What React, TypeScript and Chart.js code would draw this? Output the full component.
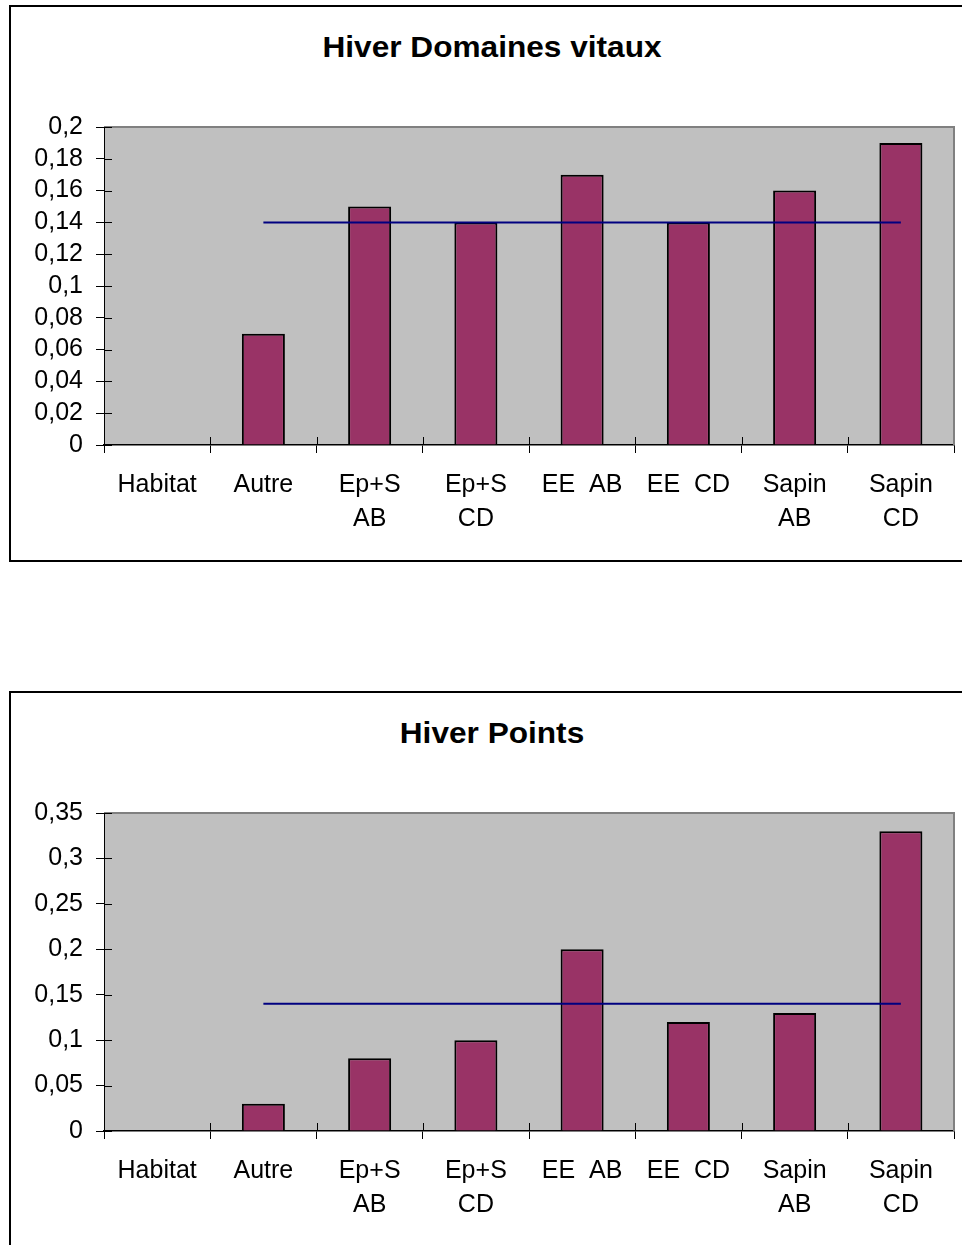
import React, { useEffect, useRef } from "react";
import { Chart, registerables } from "chart.js";

Chart.register(...registerables);

const categories: string[][] = [
  ["Habitat"],
  ["Autre"],
  ["Ep+S", "AB"],
  ["Ep+S", "CD"],
  ["EE  AB"],
  ["EE  CD"],
  ["Sapin", "AB"],
  ["Sapin", "CD"],
];

const domainesTitle = "Hiver Domaines vitaux";
const domainesValues = [null, 0.07, 0.15, 0.14, 0.17, 0.14, 0.16, 0.19];
const domainesRef = [null, 0.14, 0.14, 0.14, 0.14, 0.14, 0.14, 0.14];
const domainesMax = 0.2;
const domainesStep = 0.02;

const pointsTitle = "Hiver Points";
const pointsValues = [null, 0.03, 0.08, 0.1, 0.2, 0.12, 0.13, 0.33];
const pointsRef = [null, 0.14, 0.14, 0.14, 0.14, 0.14, 0.14, 0.14];
const pointsMax = 0.35;
const pointsStep = 0.05;

const FONT = "'Liberation Sans', Arial, Helvetica, sans-serif";

const plotPlugin = {
  id: "plotDecor",
  beforeDraw(chart: any) {
    const { ctx, chartArea: a } = chart;
    ctx.save();
    ctx.fillStyle = "#C0C0C0";
    ctx.fillRect(a.left, a.top, a.right - a.left, a.bottom - a.top);
    ctx.restore();
  },
  afterDraw(chart: any) {
    const { ctx, chartArea: a } = chart;
    ctx.save();
    ctx.strokeStyle = "#808080";
    ctx.lineWidth = 2;
    ctx.beginPath();
    ctx.moveTo(a.left, a.top);
    ctx.lineTo(a.right, a.top);
    ctx.lineTo(a.right, a.bottom);
    ctx.stroke();
    ctx.strokeStyle = "#000";
    ctx.lineWidth = 1;
    const ys = chart.scales.y;
    ys.ticks.forEach((t: any) => {
      const y = Math.round(ys.getPixelForValue(t.value)) + 0.5;
      ctx.beginPath();
      ctx.moveTo(a.left, y);
      ctx.lineTo(a.left + 8, y);
      ctx.stroke();
    });
    const xs = chart.scales.x;
    const n = xs.ticks.length;
    const w = (xs.right - xs.left) / n;
    for (let i = 1; i < n; i++) {
      const x = Math.round(xs.left + i * w) + 0.5;
      ctx.beginPath();
      ctx.moveTo(x, a.bottom - 8);
      ctx.lineTo(x, a.bottom);
      ctx.stroke();
    }
    ctx.restore();
  },
};

function fmt(v: number) {
  const r = Math.round(v * 100) / 100;
  return String(r).replace(".", ",");
}

function HiverChart(props: {
  title: string;
  bars: (number | null)[];
  line: (number | null)[];
  max: number;
  step: number;
  top: number;
}) {
  const ref = useRef<HTMLCanvasElement>(null);
  useEffect(() => {
    if (!ref.current) return;
    const chart = new Chart(ref.current, {
      type: "bar",
      data: {
        labels: categories,
        datasets: [
          {
            type: "line",
            data: props.line,
            borderColor: "#000080",
            borderWidth: 2,
            pointRadius: 0,
            fill: false,
            order: 0,
          } as any,
          {
            type: "bar",
            data: props.bars,
            backgroundColor: "#993366",
            borderColor: "#000000",
            borderWidth: 2,
            categoryPercentage: 1,
            barPercentage: 0.405,
            order: 1,
          } as any,
        ],
      },
      options: {
        responsive: false,
        animation: false,
        maintainAspectRatio: false,
        layout: { padding: { left: 0, right: 8, top: 127, bottom: 0 } },
        plugins: {
          legend: { display: false },
          tooltip: { enabled: false },
          title: { display: false },
        },
        scales: {
          x: {
            offset: true,
            grid: {
              offset: true,
              drawOnChartArea: false,
              drawTicks: true,
              tickLength: 8,
              color: "#000",
              lineWidth: 1,
            },
            border: { color: "#000", width: 1.5 },
            ticks: {
              color: "#000",
              font: { family: FONT, size: 25, lineHeight: 1.36 },
              padding: 15,
              maxRotation: 0,
              minRotation: 0,
              autoSkip: false,
            },
            afterFit: (s: any) => {
              s.height = 115;
            },
          },
          y: {
            min: 0,
            max: props.max,
            grid: {
              drawOnChartArea: false,
              drawTicks: true,
              tickLength: 8,
              color: "#000",
              lineWidth: 1,
            },
            border: { color: "#000", width: 1 },
            ticks: {
              stepSize: props.step,
              autoSkip: false,
              color: "#000",
              font: { family: FONT, size: 25, lineHeight: 1.2 },
              padding: 13,
              callback: (v: any) => fmt(Number(v)),
            },
            afterFit: (s: any) => {
              s.width = 104;
            },
          },
        },
      },
      plugins: [plotPlugin],
    } as any);
    return () => chart.destroy();
  }, []);
  return (
    <>
      <div
        style={{
          position: "absolute",
          left: 9,
          top: props.top + 5,
          width: 1000,
          height: 553,
          border: "2px solid #000",
          background: "#fff",
        }}
      />
      <div
        style={{
          position: "absolute",
          left: 192,
          width: 600,
          top: props.top + 30,
          height: 34,
          lineHeight: "34px",
          textAlign: "center",
          fontFamily: FONT,
          fontWeight: "bold",
          fontSize: 29,
          color: "#000",
          transform: "scaleX(1.09)",
          whiteSpace: "nowrap",
        }}
      >
        {props.title}
      </div>
      <canvas
        ref={ref}
        width={962}
        height={560}
        style={{ position: "absolute", left: 0, top: props.top, width: 962, height: 560 }}
      />
    </>
  );
}

export default function App() {
  return (
    <div
      style={{
        position: "fixed",
        left: 0,
        top: 0,
        width: 962,
        height: 1245,
        overflow: "hidden",
        background: "#fff",
      }}
    >
      <HiverChart
        title={domainesTitle}
        bars={domainesValues}
        line={domainesRef}
        max={domainesMax}
        step={domainesStep}
        top={0}
      />
      <HiverChart
        title={pointsTitle}
        bars={pointsValues}
        line={pointsRef}
        max={pointsMax}
        step={pointsStep}
        top={686}
      />
    </div>
  );
}
